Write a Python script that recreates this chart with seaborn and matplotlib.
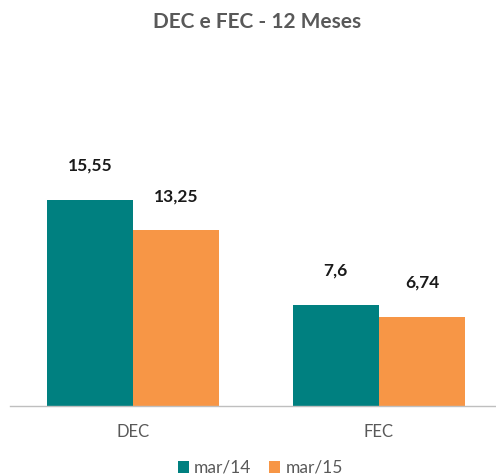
import matplotlib
matplotlib.use("Agg")
import matplotlib.pyplot as plt
import seaborn as sns
import pandas as pd

categories = ["DEC", "FEC"]
series_names = ["mar/14", "mar/15"]
values_mar14 = [15.55, 7.6]
values_mar15 = [13.25, 6.74]
labels_mar14 = ["15,55", "7,6"]
labels_mar15 = ["13,25", "6,74"]

sns.set_theme(style="white")
plt.rcParams['font.family'] = ['Lato', 'DejaVu Sans']

df = pd.DataFrame({
    "cat": categories * 2,
    "serie": [series_names[0]] * 2 + [series_names[1]] * 2,
    "val": values_mar14 + values_mar15,
    "lab": labels_mar14 + labels_mar15,
})

fig = plt.figure(figsize=(4.96, 4.76), dpi=100)
ax = fig.add_axes([0.02, 0.147, 0.98, 0.668])
palette = {"mar/14": "#008080", "mar/15": "#F79646"}
sns.barplot(data=df, x="cat", y="val", hue="serie", palette=palette,
            width=0.7, saturation=1, ax=ax, legend=True, linewidth=0)

for cont, labs in zip(ax.containers, [labels_mar14, labels_mar15]):
    ax.bar_label(cont, labels=labs, padding=19, fontsize=12.5,
                 fontweight="bold", color="#1a1a1a")

ax.set_xlim(-0.5, 1.476)
ax.set_ylim(0, 24)
ax.set_xlabel("")
ax.set_ylabel("")
ax.set_yticks([])
for s in ["top", "right", "left"]:
    ax.spines[s].set_visible(False)
ax.spines["bottom"].set_color("#bfbfbf")
ax.spines["bottom"].set_linewidth(1)
ax.tick_params(axis="x", length=0, pad=13, labelsize=12, labelcolor="#595959")

fig.suptitle("DEC e FEC - 12 Meses", x=0.518, y=0.975, fontsize=15,
             fontweight="bold", color="#595959")

ax.legend(loc="upper center", bbox_to_anchor=(0.515, -0.12), ncol=2,
          frameon=False, fontsize=12.5, handlelength=0.65, handleheight=0.65,
          handletextpad=0.3, columnspacing=1.0, labelcolor="#595959")

fig.savefig("out.png", dpi=100)
